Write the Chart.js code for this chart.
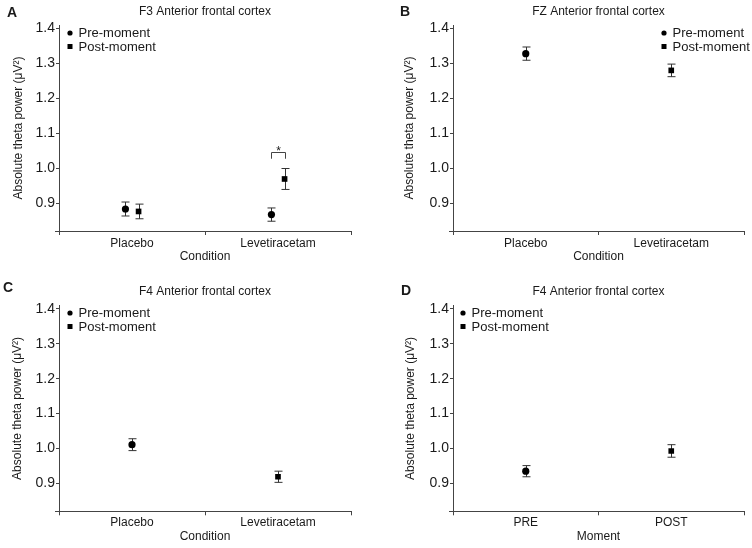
<!DOCTYPE html>
<html>
<head>
<meta charset="utf-8">
<script src="https://cdn.jsdelivr.net/npm/chart.js@4.4.1/dist/chart.umd.min.js"></script>
<style>
  body { margin: 0; background: #fff; }
  #wrap { position: relative; width: 752px; height: 548px; }
  canvas { position: absolute; }
</style>
</head>
<body>
<div id="wrap">
  <canvas id="panelA" width="376" height="274" style="left:0;top:0"></canvas>
  <canvas id="panelB" width="376" height="274" style="left:376px;top:0"></canvas>
  <canvas id="panelC" width="376" height="274" style="left:0;top:274px"></canvas>
  <canvas id="panelD" width="376" height="274" style="left:376px;top:274px"></canvas>
</div>
<script>
const conditionLabels = ['Placebo', 'Levetiracetam'];
const momentLabels = ['PRE', 'POST'];
const yTickValues = [0.9, 1.0, 1.1, 1.2, 1.3, 1.4];

// A: F3, condition
const f3Pre = [0.883, 0.867];
const f3PreErr = [0.020, 0.019];
const f3Post = [0.876, 0.969];
const f3PostErr = [0.021, 0.030];
const f3SigTop = 1.047;   // significance bracket, Levetiracetam pre vs post
const f3SigFoot = 1.027;

// B: FZ, condition
const fzPre = [1.328, null];
const fzPreErr = [0.019, null];
const fzPost = [null, 1.280];
const fzPostErr = [null, 0.018];

// C: F4, condition
const f4Pre = [1.011, null];
const f4PreErr = [0.017, null];
const f4Post = [null, 0.919];
const f4PostErr = [null, 0.016];

// D: F4, moment
const f4mPre = [0.935, null];
const f4mPreErr = [0.016, null];
const f4mPost = [null, 0.993];
const f4mPostErr = [null, 0.018];

const axisColor = '#444';
const textColor = '#1a1a1a';
Chart.defaults.font.family = "'Liberation Sans', Arial, sans-serif";
Chart.defaults.color = textColor;

function toPoints(vals, errs, dodge) {
  const pts = [];
  vals.forEach((v, i) => {
    if (v !== null) pts.push({ x: i + dodge, y: v, err: errs[i] });
  });
  return pts;
}

// error bars, legend, titles, panel letter, significance bracket
function decoPlugin(p) {
  return {
    id: 'deco',
    beforeDatasetsDraw(chart) {
      const ctx = chart.ctx;
      const y = chart.scales.y;
      ctx.save();
      ctx.strokeStyle = '#333';
      ctx.lineWidth = 1;
      chart.data.datasets.forEach((ds, di) => {
        const meta = chart.getDatasetMeta(di);
        meta.data.forEach((el, j) => {
          const d = ds.data[j];
          const top = y.getPixelForValue(d.y + d.err);
          const bot = y.getPixelForValue(d.y - d.err);
          const x = Math.round(el.x) + 0.5;
          ctx.beginPath();
          ctx.moveTo(x, top); ctx.lineTo(x, bot);
          ctx.moveTo(x - 4, top); ctx.lineTo(x + 4, top);
          ctx.moveTo(x - 4, bot); ctx.lineTo(x + 4, bot);
          ctx.stroke();
        });
      });
      ctx.restore();
    },
    afterDraw(chart) {
      const ctx = chart.ctx;
      const area = chart.chartArea;
      ctx.save();
      // x axis line runs a little past the y axis, as in the original
      ctx.strokeStyle = axisColor;
      ctx.lineWidth = 1;
      ctx.beginPath();
      ctx.moveTo(area.left - 4, Math.round(area.bottom) + 0.5);
      ctx.lineTo(area.left, Math.round(area.bottom) + 0.5);
      ctx.stroke();
      // title
      ctx.fillStyle = textColor;
      ctx.font = "12px 'Liberation Sans', Arial, sans-serif";
      ctx.textAlign = 'center';
      ctx.textBaseline = 'middle';
      ctx.fillText(p.title, (area.left + area.right) / 2, p.titleY);
      // letter
      ctx.font = "bold 14px 'Liberation Sans', Arial, sans-serif";
      ctx.textAlign = 'left';
      ctx.fillText(p.letter, p.letterX, p.letterY);
      // legend
      const mx = p.legendSide === 'right' ? area.right - p.legendDx : area.left + p.legendDx;
      const rows = [area.top + p.legendDy, area.top + p.legendDy + 13.5];
      ctx.fillStyle = '#000';
      ctx.beginPath();
      ctx.arc(mx, rows[0], 2.6, 0, Math.PI * 2);
      ctx.fill();
      ctx.fillRect(mx - 2.5, rows[1] - 2.5, 5, 5);
      ctx.fillStyle = textColor;
      ctx.font = "13px 'Liberation Sans', Arial, sans-serif";
      ctx.fillText('Pre-moment', mx + 8.5, rows[0] + 0.5);
      ctx.fillText('Post-moment', mx + 8.5, rows[1] + 0.5);
      // significance bracket
      if (p.sig) {
        const y = chart.scales.y;
        const x1 = Math.round(chart.getDatasetMeta(0).data[1].x) + 0.5;
        const x2 = Math.round(chart.getDatasetMeta(1).data[1].x) + 0.5;
        const yt = Math.round(y.getPixelForValue(p.sig.top)) + 0.5;
        const yf = y.getPixelForValue(p.sig.foot);
        ctx.strokeStyle = '#444';
        ctx.lineWidth = 1;
        ctx.beginPath();
        ctx.moveTo(x1, yf); ctx.lineTo(x1, yt); ctx.lineTo(x2, yt); ctx.lineTo(x2, yf);
        ctx.stroke();
        ctx.font = "12px 'Liberation Sans', Arial, sans-serif";
        ctx.textAlign = 'center';
        ctx.textBaseline = 'alphabetic';
        ctx.fillText('*', (x1 + x2) / 2, yt + 2);
      }
      ctx.restore();
    }
  };
}

function makePanel(id, p) {
  new Chart(document.getElementById(id), {
    type: 'scatter',
    data: {
      datasets: [
        { label: 'Pre-moment', data: toPoints(p.pre, p.preErr, -p.dodge), xAxisID: 'xd',
          pointStyle: 'circle', pointRadius: 3.6, backgroundColor: '#000', borderColor: '#000', borderWidth: 0 },
        { label: 'Post-moment', data: toPoints(p.post, p.postErr, p.dodge), xAxisID: 'xd',
          pointStyle: 'rect', pointRadius: 4, backgroundColor: '#000', borderColor: '#000', borderWidth: 0 }
      ]
    },
    options: {
      responsive: false,
      animation: false,
      events: [],
      layout: { padding: { left: 0, top: p.padTop, right: p.padRight, bottom: 0 } },
      plugins: { legend: { display: false }, tooltip: { enabled: false } },
      scales: {
        x: {
          type: 'category',
          labels: p.labels,
          offset: true,
          grid: { offset: true, drawOnChartArea: false, drawTicks: true, tickLength: 4, color: axisColor },
          border: { color: axisColor },
          ticks: { padding: p.xTickPad, font: { size: 12 }, color: textColor, maxRotation: 0 },
          title: { display: true, text: p.xTitle, font: { size: 12 }, color: textColor,
                   padding: { top: 0, bottom: p.xTitlePad } },
          afterFit: s => { s.height = p.xHeight; }
        },
        xd: { type: 'linear', display: false, min: -0.5, max: 1.5 },
        y: {
          min: 0.82,
          max: 1.41,
          afterBuildTicks: s => { s.ticks = yTickValues.map(v => ({ value: v })); },
          afterFit: s => { s.width = p.yWidth; },
          ticks: { callback: v => v.toFixed(1), padding: 1, font: { size: 14 }, color: textColor },
          grid: { drawOnChartArea: false, drawTicks: true, tickLength: 3, color: axisColor },
          border: { color: axisColor },
          title: { display: true, text: 'Absolute theta power (μV²)', font: { size: 12 }, color: textColor,
                   padding: { top: p.yTitlePad, bottom: 0 } }
        }
      }
    },
    plugins: [decoPlugin(p)]
  });
}

makePanel('panelA', {
  labels: conditionLabels, xTitle: 'Condition', title: 'F3 Anterior frontal cortex', letter: 'A',
  pre: f3Pre, preErr: f3PreErr, post: f3Post, postErr: f3PostErr, dodge: 0.045,
  sig: { top: f3SigTop, foot: f3SigFoot },
  padTop: 25, padRight: 25, yWidth: 59, xHeight: 43, xTickPad: 1, xTitlePad: 10, yTitlePad: 11,
  titleY: 12, letterX: 7, letterY: 13.5, legendSide: 'left', legendDx: 11, legendDy: 8
});
makePanel('panelB', {
  labels: conditionLabels, xTitle: 'Condition', title: 'FZ Anterior frontal cortex', letter: 'B',
  pre: fzPre, preErr: fzPreErr, post: fzPost, postErr: fzPostErr, dodge: 0,
  padTop: 25, padRight: 8, yWidth: 77, xHeight: 43, xTickPad: 1, xTitlePad: 10, yTitlePad: 26,
  titleY: 12, letterX: 24, letterY: 12.5, legendSide: 'right', legendDx: 80, legendDy: 8
});
makePanel('panelC', {
  labels: conditionLabels, xTitle: 'Condition', title: 'F4 Anterior frontal cortex', letter: 'C',
  pre: f4Pre, preErr: f4PreErr, post: f4Post, postErr: f4PostErr, dodge: 0,
  padTop: 31.5, padRight: 25, yWidth: 59, xHeight: 36.7, xTickPad: 0, xTitlePad: 4, yTitlePad: 10,
  titleY: 17.3, letterX: 3, letterY: 14, legendSide: 'left', legendDx: 11, legendDy: 7.5
});
makePanel('panelD', {
  labels: momentLabels, xTitle: 'Moment', title: 'F4 Anterior frontal cortex', letter: 'D',
  pre: f4mPre, preErr: f4mPreErr, post: f4mPost, postErr: f4mPostErr, dodge: 0,
  padTop: 31.5, padRight: 8, yWidth: 77, xHeight: 36.7, xTickPad: 0, xTitlePad: 4, yTitlePad: 27,
  titleY: 17.3, letterX: 25, letterY: 17, legendSide: 'left', legendDx: 10, legendDy: 7.5
});
</script>
</body>
</html>
